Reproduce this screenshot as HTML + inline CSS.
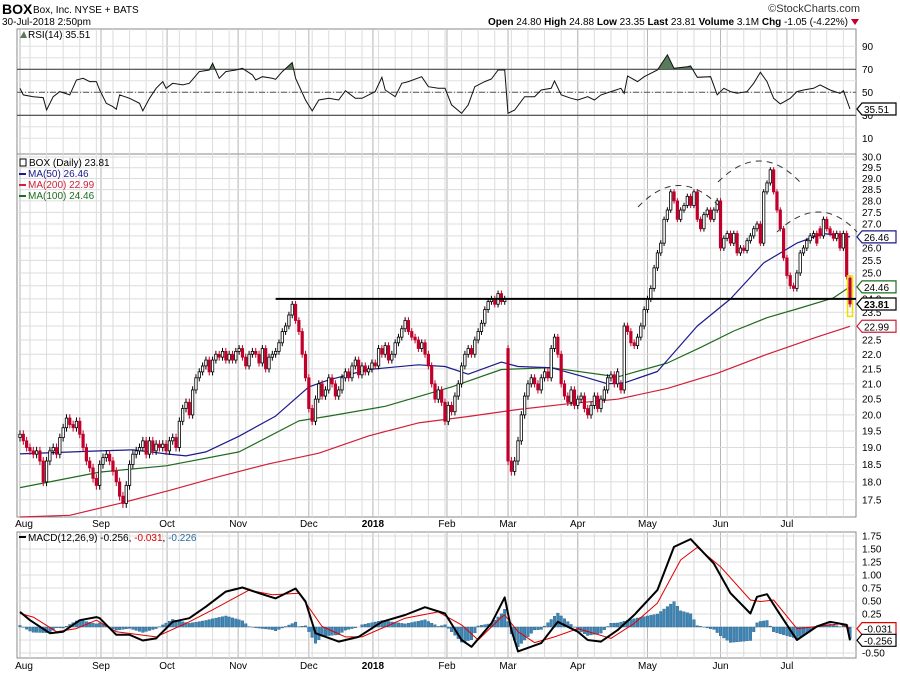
<!DOCTYPE html>
<html><head><meta charset="utf-8">
<style>
html,body{margin:0;padding:0;background:#fff;}
body{width:900px;height:673px;overflow:hidden;font-family:"Liberation Sans",sans-serif;}
svg text{font-family:"Liberation Sans",sans-serif;}
</style></head>
<body>
<svg id="chart" width="900" height="673" viewBox="0 0 900 673" xmlns="http://www.w3.org/2000/svg">
  <g id="grid"></g>
  <g id="marks"></g>
  <g id="labels"></g>
  <text x="2" y="14" font-size="14" font-weight="bold">BOX</text>
  <text x="33" y="13" font-size="10">Box, Inc. NYSE + BATS</text>
  <text x="2" y="25" font-size="10">30-Jul-2018 2:50pm</text>
  <text x="860" y="12" font-size="11" text-anchor="end" fill="#333">©StockCharts.com</text>
  <text x="848" y="25" font-size="10" text-anchor="end"><tspan font-weight="bold">Open</tspan> 24.80 <tspan font-weight="bold">High</tspan> 24.88 <tspan font-weight="bold">Low</tspan> 23.35 <tspan font-weight="bold">Last</tspan> 23.81 <tspan font-weight="bold">Volume</tspan> 3.1M <tspan font-weight="bold">Chg</tspan> -1.05 (-4.22%)</text>
  <polygon points="851,19 859,19 855,25" fill="#c0002a"/>
  <text x="28" y="38" font-size="10">RSI(14) 35.51</text>
  <polygon points="20,38 24,31 27,38" fill="#5a7a5a"/>
  <text x="29" y="166" font-size="10">BOX (Daily) 23.81</text>
  <rect x="20" y="159" width="6" height="7" fill="none" stroke="#000"/>
  <line x1="19" y1="174" x2="26" y2="174" stroke="#1a1a8c" stroke-width="2"/>
  <text x="28" y="177" font-size="10" fill="#1a1a8c">MA(50) 26.46</text>
  <line x1="19" y1="185" x2="26" y2="185" stroke="#d0203a" stroke-width="2"/>
  <text x="28" y="188" font-size="10" fill="#d0203a">MA(200) 22.99</text>
  <line x1="19" y1="196" x2="26" y2="196" stroke="#1f6b1f" stroke-width="2"/>
  <text x="28" y="199" font-size="10" fill="#1f6b1f">MA(100) 24.46</text>
  <line x1="19" y1="537" x2="26" y2="537" stroke="#000" stroke-width="2"/>
  <text x="28" y="541" font-size="10">MACD(12,26,9) -0.256, <tspan fill="#e00000">-0.031</tspan>, <tspan fill="#2a6aa0">-0.226</tspan></text>
</svg>
<script>
// ---- data ----
const closes = [
19.4,19.2,19.0,18.9,18.8,18.9,18.6,18.0,18.6,18.9,19.0,18.8,19.3,19.6,19.9,19.7,19.6,19.8,19.4,19.0,18.6,
18.4,18.1,17.9,18.5,18.7,18.8,18.6,18.3,18.0,17.6,17.4,17.9,18.5,18.8,18.9,19.0,19.2,18.8,19.2,18.9,19.1,
19.0,19.1,18.9,19.2,19.3,19.0,19.8,20.2,20.4,20.0,20.8,21.2,21.4,21.6,21.8,21.4,21.8,22.0,21.9,22.1,21.8,
22.0,21.8,22.1,22.2,21.9,21.6,22.0,22.1,22.0,21.7,22.2,21.5,21.9,22.0,22.1,22.4,22.8,23.0,23.4,23.8,23.2,22.8,
22.0,21.2,20.2,19.8,20.5,21.0,20.6,20.8,21.2,21.0,20.6,20.8,21.2,21.4,21.2,21.6,21.8,21.3,21.6,21.4,21.5,21.7,
21.6,22.2,22.0,22.3,21.8,22.0,22.4,22.6,22.9,23.2,22.8,22.6,22.5,22.2,22.4,22.0,21.6,21.0,20.5,20.8,20.4,
19.8,20.3,20.1,20.6,21.0,21.6,22.0,22.2,22.0,22.5,22.8,23.1,23.6,23.9,24.0,23.8,24.2,23.9,24.0,
18.6,18.3,18.6,19.2,20.0,20.6,21.0,21.2,21.0,20.8,21.2,21.4,21.2,22.2,22.6,22.0,21.0,20.6,20.4,20.8,20.3,
20.5,20.6,20.2,20.0,20.3,20.6,20.2,20.5,20.8,21.2,21.3,21.0,21.4,20.8,23.0,22.8,22.4,22.3,22.6,23.0,23.6,
24.0,24.4,25.2,25.8,26.2,27.2,27.6,28.4,28.0,27.2,27.6,27.8,28.2,27.8,28.4,27.2,26.8,27.4,27.6,27.2,27.6,28.0,
26.0,26.4,26.6,26.2,26.6,25.8,26.0,25.9,26.3,26.5,26.8,27.0,26.2,28.4,28.8,29.4,28.4,27.6,26.8,25.6,24.9,
24.5,24.4,25.0,25.8,26.0,26.3,26.5,26.6,26.2,26.5,27.2,26.8,26.6,26.4,26.6,26.0,26.6,24.86,23.81];
const firstOpen = 19.3;
const gapOpenDays = [147, 181, 241, 250];
const gapOpenVals = [22.2, 21.0, 26.8, 24.80];
const ma50Days = [0,24,34,44,50,56,66,77,87,93,105,120,128,135,145,150,160,170,177,182,192,204,214,224,234,242,250];
const ma50 = [18.81,18.9,18.93,18.81,18.75,18.87,19.34,19.96,20.9,21.13,21.48,21.64,21.58,21.32,21.73,21.58,21.54,21.23,21.0,21.03,21.41,23.0,24.0,25.4,26.2,26.6,26.46];
const ma100Days = [0,24,44,66,84,93,110,130,145,160,180,195,205,215,225,235,245,250];
const ma100 = [17.84,18.28,18.46,18.87,19.81,19.96,20.27,20.9,21.48,21.54,21.23,21.7,22.24,22.82,23.3,23.66,24.04,24.46];
const ma200Days = [0,15,30,45,60,75,90,105,120,135,150,165,180,195,210,225,240,250];
const ma200 = [16.75,17.08,17.4,17.76,18.15,18.52,18.83,19.35,19.75,19.95,20.17,20.35,20.5,20.85,21.35,22.0,22.6,22.99];
const rsiDays = [0,1,4,7,8,10,12,15,17,19,21,23,24,26,28,29,30,33,36,37,39,41,43,44,46,49,51,54,57,58,60,62,65,67,70,71,73,76,77,79,82,83,86,88,90,93,96,98,101,103,107,109,110,113,115,117,121,123,126,128,130,133,135,137,140,142,144,146,147,149,152,155,157,160,161,163,166,168,171,173,175,178,181,182,183,186,188,192,195,197,201,202,204,208,210,212,214,216,219,221,223,225,227,229,232,234,236,239,241,244,247,248,250];
const rsiVals = [53.5,47.7,46.2,45.4,34.6,46.2,50.6,47.7,60.7,62.2,59.3,59.3,52.0,40.4,37.5,35.2,47.7,44.8,40.4,33.8,44.8,53.5,59.3,53.5,57.8,56.4,57.8,68.0,69.4,75.2,62.2,68.0,69.4,70.9,65.1,60.7,63.6,62.2,61.3,68.0,75.8,62.2,43.3,33.8,43.3,44.8,43.3,51.4,44.8,44.8,50.6,63.0,52.0,46.2,57.8,59.3,63.6,54.9,53.5,53.5,39.0,31.7,39.0,54.9,59.3,61.6,69.4,69.4,31.7,34.6,46.2,46.2,52.0,53.5,59.9,47.7,44.8,43.3,46.2,43.3,47.7,50.6,53.5,49.1,64.2,59.3,63.6,69.4,82.5,70.9,72.3,72.9,63.0,63.6,47.7,53.5,50.6,49.1,50.6,57.8,67.4,59.3,44.8,39.9,44.8,50.6,52.0,53.5,56.4,52.0,49.1,51.4,35.51];
const macdDays = [0,3,9,13,18,23,24,29,33,37,41,46,51,56,62,67,72,77,83,86,89,96,102,109,116,122,128,133,136,142,146,148,150,157,162,168,171,175,180,185,192,197,202,209,214,220,222,225,228,234,240,244,249,250];
const macdVals = [0.29,0.13,-0.12,-0.09,0.13,0.19,0.17,-0.15,-0.15,-0.26,-0.22,0.10,0.17,0.39,0.68,0.76,0.65,0.55,0.74,0.49,-0.12,-0.28,-0.19,0.10,0.23,0.38,0.26,-0.25,-0.38,0.07,0.57,-0.06,-0.47,-0.31,0.10,-0.09,-0.25,-0.28,-0.06,0.23,0.71,1.54,1.69,1.22,0.65,0.26,0.58,0.63,0.33,-0.25,0.01,0.10,0.04,-0.256];
const sigDays = [0,4,11,17,23,29,41,51,58,69,76,84,91,98,103,116,126,133,138,145,146,150,155,161,168,178,185,192,199,204,211,220,223,227,234,240,247,250];
const sigVals = [0.26,0.19,-0.09,-0.03,0.13,-0.09,-0.19,0.10,0.33,0.71,0.62,0.65,0.01,-0.19,-0.19,0.17,0.29,0.04,-0.25,0.19,0.23,-0.09,-0.30,-0.19,-0.03,-0.22,0.07,0.46,1.29,1.53,1.16,0.52,0.49,0.52,-0.03,0.01,0.06,-0.031];
const monthLabels = ["Aug","Sep","Oct","Nov","Dec","2018","Feb","Mar","Apr","May","Jun","Jul"];
const monthDays = [0,24.4,44.3,65.7,87,106.3,128.6,147,168,189,211,231];
const priceTicks = [17.5,18.0,18.5,19.0,19.5,20.0,20.5,21.0,21.5,22.0,22.5,23.0,23.5,24.0,24.5,25.0,25.5,26.0,26.5,27.0,27.5,28.0,28.5,29.0,29.5,30.0];
const rsiTicks = [10,30,50,70,90];
const macdTicks = [-0.50,-0.25,0,0.25,0.50,0.75,1.00,1.25,1.50,1.75];
const macdTickLabels = ["-0.50","","","0.25","0.50","0.75","1.00","1.25","1.50","1.75"];
const supportLevel = 24.0;
const supportStartDay = 77;

// ---- geometry ----
const NS = "http://www.w3.org/2000/svg";
const L = 17, R = 856, X0 = 20, DAYS = 250, X1 = 850;
const RSI_T = 29, RSI_B = 154, PR_T = 154, PR_B = 517, MA_T = 532, MA_B = 658;
function xDay(d){ return X0 + d*(X1-X0)/DAYS; }
function yPrice(p){ return 157 + (Math.log(30) - Math.log(p))*636; }
function yRsi(v){ return 92.3 - (v-50)*1.15; }
function yMacd(v){ return 627 - v*52; }
const grid = document.getElementById('grid'), marks = document.getElementById('marks'), labels = document.getElementById('labels');
function mk(tag, attrs, parent){ const e=document.createElementNS(NS,tag); for(const k in attrs) e.setAttribute(k, attrs[k]); parent.appendChild(e); return e; }
function interp(days, vals, d){
  if(d<=days[0]) return vals[0];
  for(let i=1;i<days.length;i++){ if(d<=days[i]){ const t=(d-days[i-1])/(days[i]-days[i-1]||1); return vals[i-1]+t*(vals[i]-vals[i-1]); } }
  return vals[vals.length-1];
}

[[RSI_T,RSI_B,'rsi-panel'],[PR_T,PR_B,'price-panel'],[MA_T,MA_B,'macd-panel']].forEach(p=>{
  const r = mk('rect',{x:L,y:p[0],width:R-L,height:p[1]-p[0],fill:'#fff',stroke:'#888','stroke-width':1},grid);
  
  
});
for(let d=3; d<=DAYS; d+=5){
  [[RSI_T,RSI_B],[PR_T,PR_B],[MA_T,MA_B]].forEach(p=>{
    const ln = mk('line',{x1:xDay(d),x2:xDay(d),y1:p[0],y2:p[1],stroke:'#dcdcdc','stroke-width':1},grid);
    
    
  });
}
monthDays.forEach((d,i)=>{
  const x = xDay(d);
  [[RSI_T,RSI_B],[PR_T,PR_B],[MA_T,MA_B]].forEach(p=>{
    const ln = mk('line',{x1:x,x2:x,y1:p[0],y2:p[1],stroke:'#b4b4b4','stroke-width':1},grid);
    
    
  });
  [527, 669].forEach(y=>{
    const t = mk('text',{x: i===0 ? x+4 : x, y:y, 'font-size':10, 'text-anchor':'middle', 'font-weight': monthLabels[i]==='2018'?'bold':'normal'},labels);
    t.textContent = monthLabels[i];
    
    
  });
});
priceTicks.forEach(p=>{
  const y = yPrice(p);
  const ln = mk('line',{x1:L,x2:R,y1:y,y2:y,stroke:'#dcdcdc'},grid);
  
  
  const t = mk('text',{x:862,y:y+3.5,'font-size':10},labels);
  t.textContent = p.toFixed(1);
  
  
});
for(let v=10; v<=90; v+=10){
  const y=yRsi(v);
  const ln = mk('line',{x1:L,x2:R,y1:y,y2:y,stroke:'#e0e0e0'},grid);
  
  
}
rsiTicks.forEach(v=>{
  const y=yRsi(v);
  if(v===30||v===70){ const ln=mk('line',{x1:L,x2:R,y1:y,y2:y,stroke:'#444','stroke-width':1.2},grid);   }
  if(v===50){ const ln=mk('line',{x1:L,x2:R,y1:y,y2:y,stroke:'#555','stroke-dasharray':'6,2,1,2'},grid);   }
  const t = mk('text',{x:862,y:y+3.5,'font-size':10},labels);
  t.textContent = v;
  
  
});
macdTicks.forEach((v,i)=>{
  const y=yMacd(v);
  const ln = mk('line',{x1:L,x2:R,y1:y,y2:y,stroke:'#dcdcdc'},grid);
  
  
  if(macdTickLabels[i]){
    const t = mk('text',{x:862,y:y+3.5,'font-size':10},labels);
    t.textContent = macdTickLabels[i];
    
    
  }
});

let rsiPts = rsiDays.map((d,i)=>xDay(d).toFixed(1)+','+yRsi(rsiVals[i]).toFixed(1));
const defs = mk('defs',{},marks);
const cp = mk('clipPath',{id:'ob'},defs);
mk('rect',{x:L,y:RSI_T,width:R-L,height:yRsi(70)-RSI_T},cp);
const rsiFill = mk('polygon',{points: xDay(rsiDays[0])+','+yRsi(70)+' '+rsiPts.join(' ')+' '+xDay(rsiDays[rsiDays.length-1])+','+yRsi(70), fill:'#5a7a5a','clip-path':'url(#ob)'},marks);


const rsiLine = mk('polyline',{points:rsiPts.join(' '),fill:'none',stroke:'#111','stroke-width':1},marks);



[[ma200Days,ma200,'#d0203a','ma200-line'],[ma100Days,ma100,'#1f6b1f','ma100-line'],[ma50Days,ma50,'#1a1a8c','ma50-line']].forEach(m=>{
  const pts = m[0].map((d,i)=>xDay(d).toFixed(1)+','+Math.min(yPrice(m[1][i]),PR_B).toFixed(1)).join(' ');
  const pl = mk('polyline',{points:pts,fill:'none',stroke:m[2],'stroke-width':1.2,'stroke-linejoin':'round'},marks);
  
  
});

closes.forEach((c,i)=>{
  const gi = gapOpenDays.indexOf(i);
  const o = gi>=0 ? gapOpenVals[gi] : (i===0 ? firstOpen : closes[i-1]);
  const x = xDay(i);
  const up = c >= o;
  const hi = Math.max(o,c)+0.12, lo = Math.min(o,c)-0.12;
  const col = up ? '#000' : '#c0002a';
  const w = mk('line',{x1:x,x2:x,y1:yPrice(hi),y2:yPrice(lo),stroke:col,'stroke-width':1},marks);
  
  
  const yt = yPrice(Math.max(o,c)), yb = yPrice(Math.min(o,c));
  const b = mk('rect',{x:x-1.2,y:yt,width:2.4,height:Math.max(yb-yt,1),fill:up?'#fff':'#c0002a',stroke:col,'stroke-width':0.8},marks);
  
  
});
const lastI = closes.length-1;
const hl = mk('rect',{x:xDay(lastI)-2.5,y:yPrice(24.88),width:5,height:yPrice(23.35)-yPrice(24.88),fill:'none',stroke:'#f0e000','stroke-width':1.5},marks);



const sup = mk('line',{x1:xDay(supportStartDay),x2:R,y1:yPrice(supportLevel),y2:yPrice(supportLevel),stroke:'#000','stroke-width':2},marks);



[['M638,207 Q678,165 718,205','left-shoulder-arc'],['M718,182 Q760,140 800,182','head-arc'],['M777,232 Q820,192 857,232','right-shoulder-arc']].forEach(a=>{
  const p = mk('path',{d:a[0],fill:'none',stroke:'#333','stroke-width':1,'stroke-dasharray':'6,5'},marks);
  
  
});

for(let d=0; d<=DAYS; d++){
  const h = interp(macdDays,macdVals,d) - interp(sigDays,sigVals,d);
  const y0 = yMacd(0), y1 = yMacd(h);
  const bar = mk('rect',{x:xDay(d)-1.3,y:Math.min(y0,y1),width:2.6,height:Math.abs(y1-y0),fill:'#3d86b8',stroke:'#2a5f85','stroke-width':0.4},marks);
  
  
}
[[sigDays,sigVals,'#e00000',1,'macd-signal-line'],[macdDays,macdVals,'#000',2,'macd-line']].forEach(s=>{
  const pts = s[0].map((d,i)=>xDay(d).toFixed(1)+','+yMacd(s[1][i]).toFixed(1)).join(' ');
  const pl = mk('polyline',{points:pts,fill:'none',stroke:s[2],'stroke-width':s[3],'stroke-linejoin':'round'},marks);
  
  
});

function tag(y, txt, col, bold, name){
  const g = mk('g',{},labels);
  
  
  mk('polygon',{points:`${R+1},${y} ${R+6},${y-6} ${R+40},${y-6} ${R+40},${y+6} ${R+6},${y+6}`,fill:'#fff',stroke:col,'stroke-width':1.2},g);
  const t = mk('text',{x:R+8,y:y+4,'font-size':10,fill:'#000','font-weight':bold?'bold':'normal'},g);
  t.textContent = txt;
}
tag(yRsi(35.51),'35.51','#000',false,'rsi-value-tag');
tag(yPrice(26.46),'26.46','#1a1a8c',false,'ma50-value-tag');
tag(yPrice(24.46),'24.46','#1f6b1f',false,'ma100-value-tag');
tag(yPrice(23.81),'23.81','#000',true,'price-value-tag');
tag(yPrice(22.99),'22.99','#d0203a',false,'ma200-value-tag');
tag(yMacd(-0.031),'-0.031','#e00000',false,'macd-signal-value-tag');
tag(yMacd(-0.256),'-0.256','#000',false,'macd-value-tag');
</script>
</body></html>
